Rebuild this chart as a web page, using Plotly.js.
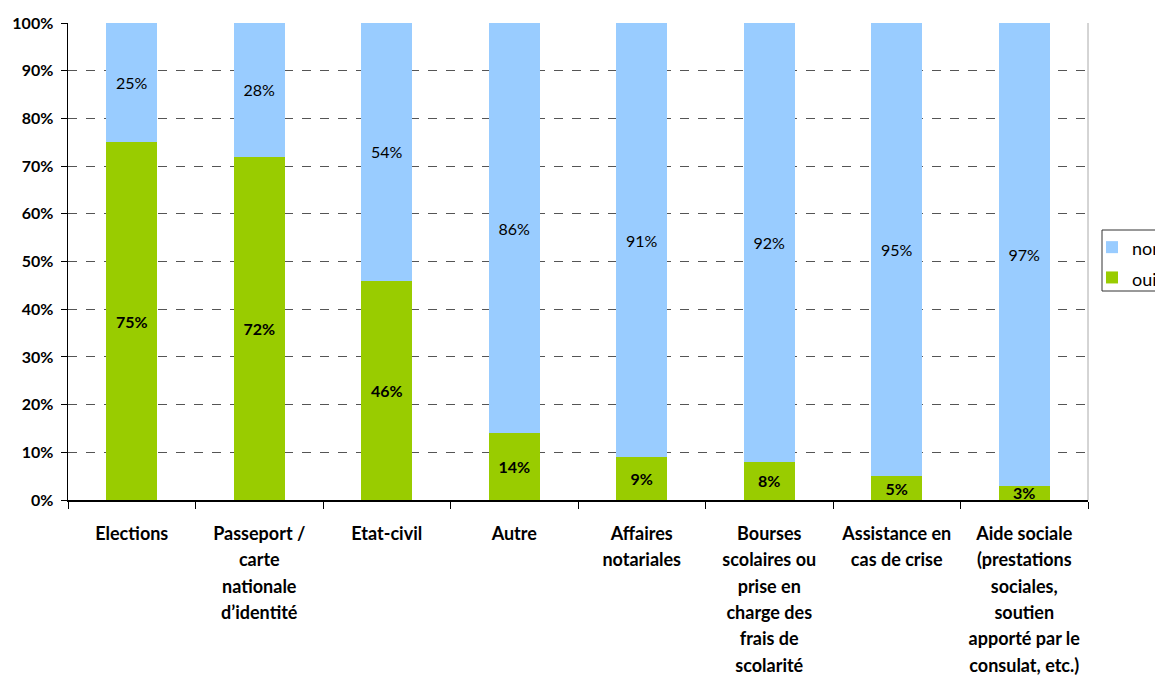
<!DOCTYPE html>
<html>
<head>
<meta charset="utf-8">
<script src="https://cdn.plot.ly/plotly-3.0.1.min.js"></script>
<style>html,body{margin:0;padding:0;background:#fff;}#chart{width:1155px;height:675px;}</style>
</head>
<body>
<div id="chart"></div>
<script>
const categories = [
  "Elections",
  "Passeport /<br>carte<br>nationale<br>d’identité",
  "Etat-civil",
  "Autre",
  "Affaires<br>notariales",
  "Bourses<br>scolaires ou<br>prise en<br>charge des<br>frais de<br>scolarité",
  "Assistance en<br>cas de crise",
  "Aide sociale<br>(prestations<br>sociales,<br>soutien<br>apporté par le<br>consulat, etc.)"
];
const ouiValues = [75, 72, 46, 14, 9, 8, 5, 3];
const nonValues = [25, 28, 54, 86, 91, 92, 95, 97];
const seriesNames = ["oui", "non"];
const yTickVals = [0, 10, 20, 30, 40, 50, 60, 70, 80, 90, 100];
const yTickText = ["0%", "10%", "20%", "30%", "40%", "50%", "60%", "70%", "80%", "90%", "100%"];

const FONT = "Lato, 'Open Sans', sans-serif";

// wrap each line in a smaller span so that the line spacing (based on the outer font size) is wider
const wrapLines = (s, px) => s.split("<br>").map(l => "<span style='font-size:" + px + "px'>" + l + "</span>").join("<br>");
const catTickText = categories.map(c => wrapLines(c, 18));

const traces = [
  {
    type: "bar", name: wrapLines(seriesNames[0], 18), x: categories, y: ouiValues,
    marker: {color: "#99CC00", line: {width: 0}},
    text: ouiValues.map(v => v + "%"), texttemplate: "<b>%{text}</b>",
    textposition: "inside", insidetextanchor: "middle", textangle: 0,
    insidetextfont: {family: FONT, size: 16, color: "#000"},
    hoverinfo: "none"
  },
  {
    type: "bar", name: wrapLines(seriesNames[1], 18), x: categories, y: nonValues,
    marker: {color: "#99CCFF", line: {width: 0}},
    text: nonValues.map(v => v + "%"), texttemplate: "%{text}",
    textposition: "inside", insidetextanchor: "middle", textangle: 0,
    insidetextfont: {family: FONT, size: 16, color: "#000"},
    hoverinfo: "none"
  }
];

const layout = {
  width: 1155, height: 675,
  margin: {l: 68, r: 67, t: 23, b: 175},
  barmode: "stack", bargap: 0.6,
  paper_bgcolor: "#fff", plot_bgcolor: "#fff",
  font: {family: FONT, size: 16, color: "#000"},
  uniformtext: {mode: "show", minsize: 16},
  xaxis: {
    type: "category", tickson: "boundaries", ticks: "outside", ticklen: 7, tickcolor: "#000",
    tickvals: categories, ticktext: catTickText,
    showline: true, linecolor: "#000", linewidth: 1.5, showgrid: false,
    tickfont: {family: FONT, size: 20.3, color: "#000", weight: "bold"}, tickangle: 0,
    ticklabelstandoff: 14,
    automargin: false
  },
  yaxis: {
    range: [0, 100], tickvals: yTickVals, ticktext: yTickText,
    ticks: "outside", ticklen: 6, tickcolor: "#000",
    showline: true, linecolor: "#000", linewidth: 1.5,
    showgrid: true, gridcolor: "#555", griddash: "dash", gridwidth: 1,
    zeroline: false,
    tickfont: {family: FONT, size: 16, color: "#000", weight: "bold"},
    ticklabelstandoff: 4,
    automargin: false
  },
  showlegend: true,
  legend: {
    xref: "container", yref: "container", x: 1092/1155, y: 1 - 227/675,
    xanchor: "left", yanchor: "top", traceorder: "reversed",
    borderwidth: 0, bgcolor: "rgba(0,0,0,0)",
    font: {family: FONT, size: 21, color: "#000"},
    itemwidth: 30
  },
  shapes: [
    {type: "line", xref: "paper", yref: "paper", x0: 1, x1: 1, y0: 0, y1: 1,
     line: {color: "#aaa", width: 1}},
    {type: "rect", xref: "paper", yref: "paper",
     x0: (1102 - 68) / 1020, x1: (1170 - 68) / 1020,
     y0: (500 - 291) / 477, y1: (500 - 230) / 477,
     line: {color: "#333", width: 1}, fillcolor: "rgba(0,0,0,0)"}
  ]
};

Plotly.newPlot("chart", traces, layout, {displayModeBar: false, staticPlot: true});
</script>
</body>
</html>
